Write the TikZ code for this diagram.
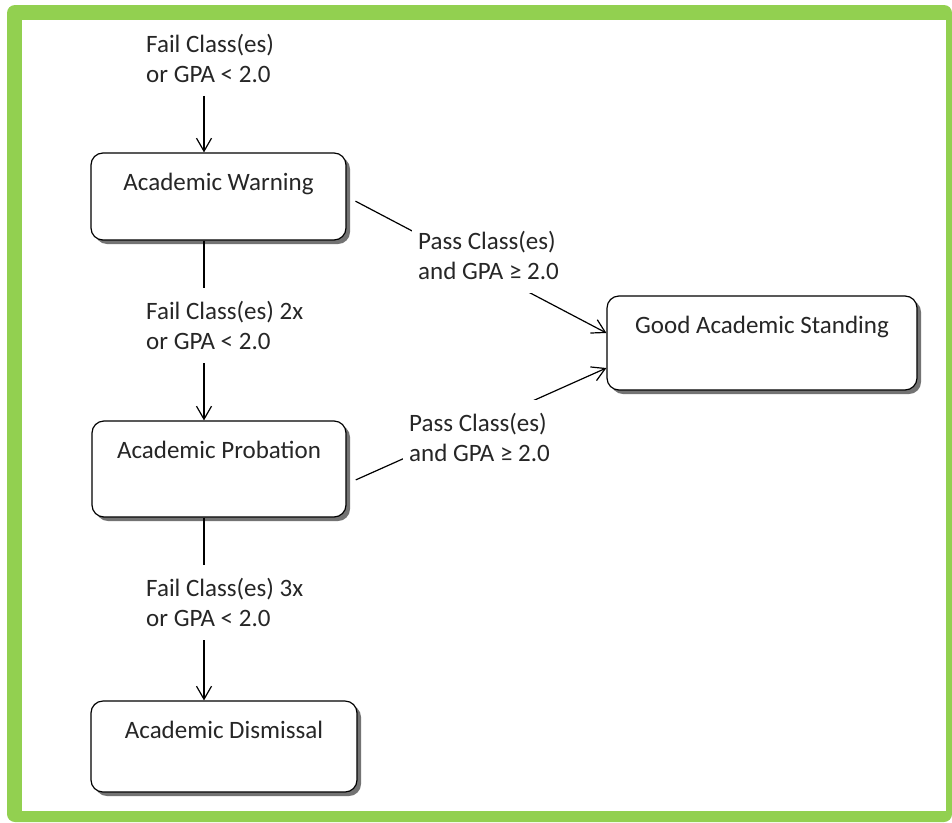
\documentclass[tikz,border=0pt]{standalone}
\usepackage{fontspec}
\setmainfont{Carlito}
\usetikzlibrary{arrows.meta,shadows}
\definecolor{framegreen}{RGB}{146,208,80}

\begin{document}
\begin{tikzpicture}[x=1pt,y=-1pt]
\tikzstyle{every node}=[font=\fontsize{25}{30}\selectfont, text=black!85]
\tikzstyle{state}=[draw, line width=1.2pt, rounded corners=12pt, fill=white, drop shadow={shadow xshift=4pt,shadow yshift=-4pt,fill=black!55,opacity=1}, inner ysep=0pt, text height=37pt]
\tikzstyle{cond}=[align=left, anchor=north west, inner xsep=6pt, inner ysep=13pt]
\tikzstyle{link}=[line width=1.2pt, -{Straight Barb[length=13pt,width=15pt]}]
\useasboundingbox (0,0) rectangle (952,822);
\fill[framegreen, rounded corners=8pt] (7,5) rectangle (952,822);
\fill[white] (22,20) rectangle (946,811);
\coordinate (spine) at (204,0);
\node at (140,21) [cond] (fail1) {Fail Class(es)\\or GPA < 2.0};
\node at (218.5,196.5) [state, minimum width=255pt, text depth=50pt] (warn) {Academic Warning};
\node at (762,343) [state, minimum width=310pt, text depth=57pt] (good) {Good Academic Standing};
\node at (219,469) [state, minimum width=254pt, text depth=59pt] (prob) {Academic Probation};
\node at (224,746.5) [state, minimum width=266pt, text depth=54pt] (dism) {Academic Dismissal};
\draw[link] (fail1.south -| spine) -- (warn.north -| spine);
\draw[link] (warn.south -| spine) -- (prob.north -| spine);
\draw[link] (prob.south -| spine) -- (dism.north -| spine);
\draw[link, shorten <=10pt] (warn.east) -- ([yshift=10pt]good.west);
\draw[link, shorten <=10pt] ([yshift=-15pt]prob.east) -- ([yshift=-25pt]good.west);
\node at (140,288) [cond, fill=white] (fail2) {Fail Class(es) 2x\\or GPA < 2.0};
\node at (140,565) [cond, fill=white] (fail3) {Fail Class(es) 3x\\or GPA < 2.0};
\node at (412,218) [cond, fill=white] (passA) {Pass Class(es)\\and GPA ≥ 2.0};
\node at (403,400) [cond, fill=white] (passB) {Pass Class(es)\\and GPA ≥ 2.0};
\end{tikzpicture}
\end{document}
